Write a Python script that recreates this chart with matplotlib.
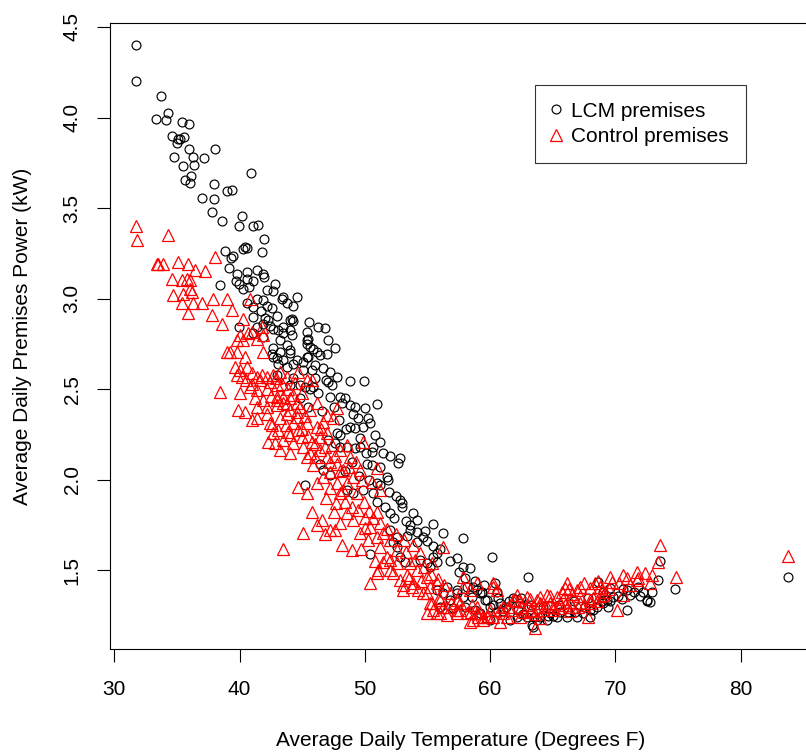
import matplotlib
matplotlib.use("Agg")
import matplotlib.pyplot as plt
from matplotlib.lines import Line2D

plt.rcParams['font.family'] = ['Liberation Sans', 'DejaVu Sans']

# LCM premises (black circles): (temperature F, power kW)
lcm_points = [
    (31.71, 4.40), (31.71, 4.20), (33.70, 4.12), (34.26, 4.025), (33.33, 3.994), (34.10, 3.989),
    (35.38, 3.978), (35.96, 3.963), (34.63, 3.90), (35.11, 3.879), (35.27, 3.882), (35.59, 3.890),
    (35.03, 3.857), (35.94, 3.825), (38.04, 3.829), (34.79, 3.781), (36.26, 3.781), (37.18, 3.774),
    (35.48, 3.733), (36.34, 3.737), (40.89, 3.696), (36.12, 3.68), (35.64, 3.654), (36.02, 3.639),
    (37.98, 3.632), (39.02, 3.595), (39.42, 3.60), (37.02, 3.558), (37.98, 3.553), (37.80, 3.477),
    (40.21, 3.459), (38.57, 3.429), (39.95, 3.404), (41.05, 3.40), (41.44, 3.406), (41.95, 3.327),
    (40.43, 3.283), (40.25, 3.272), (40.57, 3.279), (41.76, 3.255), (38.83, 3.264), (39.29, 3.227),
    (39.45, 3.234), (39.18, 3.168), (39.77, 3.139), (40.57, 3.146), (41.37, 3.157), (41.84, 3.139),
    (41.95, 3.12), (40.61, 3.106), (41.09, 3.098), (39.71, 3.095), (39.93, 3.08), (38.44, 3.076),
    (40.30, 3.054), (40.77, 3.065), (42.83, 3.08), (42.16, 3.047), (42.69, 3.04), (43.49, 3.007),
    (43.36, 2.996), (44.56, 3.007), (41.36, 2.999), (41.89, 2.992), (40.61, 2.974), (41.09, 2.955),
    (42.16, 2.959), (41.68, 2.933), (42.56, 2.946), (43.76, 2.977), (44.24, 2.959), (41.09, 2.90),
    (42.03, 2.896), (42.96, 2.903), (44.16, 2.89), (44.24, 2.877), (39.98, 2.841), (41.36, 2.844),
    (42.43, 2.848), (42.69, 2.833), (43.09, 2.826), (43.49, 2.808), (44.02, 2.826), (44.16, 2.799),
    (41.09, 2.808), (41.89, 2.789), (43.22, 2.771), (45.36, 2.815), (45.48, 2.78), (45.40, 2.749),
    (45.62, 2.734), (42.69, 2.725), (43.22, 2.706), (44.02, 2.698), (44.56, 2.661), (45.36, 2.679),
    (43.49, 2.661), (44.29, 2.642), (45.08, 2.605), (42.69, 2.679), (43.09, 2.642), (43.76, 2.624),
    (42.29, 2.881), (41.89, 2.863), (44.02, 2.885), (45.56, 2.869), (46.28, 2.841), (46.82, 2.836),
    (45.36, 2.771), (47.08, 2.771), (43.49, 2.841), (43.76, 2.743), (44.02, 2.716), (45.88, 2.72),
    (46.15, 2.706), (45.48, 2.679), (46.42, 2.688), (46.95, 2.697), (47.62, 2.725), (42.56, 2.697),
    (42.96, 2.67), (45.75, 2.605), (46.02, 2.633), (46.68, 2.615), (47.22, 2.596), (47.75, 2.565),
    (47.08, 2.541), (47.35, 2.522), (48.81, 2.546), (49.93, 2.546), (45.22, 2.51), (45.62, 2.504),
    (45.88, 2.51), (44.02, 2.522), (44.82, 2.522), (47.22, 2.458), (48.01, 2.455), (48.41, 2.449),
    (48.15, 2.422), (48.81, 2.412), (49.21, 2.403), (50.01, 2.394), (50.94, 2.418), (49.07, 2.365),
    (49.47, 2.341), (50.27, 2.341), (48.81, 2.294), (49.21, 2.284), (49.87, 2.29), (50.41, 2.311),
    (47.75, 2.256), (47.08, 2.219), (47.61, 2.201), (48.01, 2.182), (48.55, 2.182), (49.21, 2.173),
    (49.61, 2.182), (50.67, 2.182), (50.54, 2.155), (51.47, 2.146), (52.00, 2.133), (52.80, 2.118),
    (52.67, 2.094), (50.54, 2.081), (51.20, 2.072), (51.74, 2.017), (51.87, 1.998), (46.42, 2.09),
    (46.68, 2.053), (47.22, 2.026), (45.22, 1.971), (48.55, 1.943), (49.07, 1.928), (49.87, 1.943),
    (50.67, 1.925), (50.14, 2.09), (50.94, 1.98), (51.61, 1.851), (52.00, 1.815), (52.80, 1.888),
    (52.94, 1.87), (53.87, 1.815), (54.13, 1.778), (55.46, 1.756), (56.26, 1.708), (57.85, 1.677),
    (53.60, 1.723), (54.13, 1.713), (53.34, 1.689), (54.66, 1.685), (54.13, 1.658), (55.46, 1.634),
    (57.32, 1.566), (57.85, 1.52), (58.39, 1.511), (60.12, 1.575), (50.41, 1.59), (55.46, 1.575),
    (55.73, 1.547), (55.20, 1.52), (52.54, 1.63), (52.80, 1.575), (53.20, 1.547), (52.00, 1.723),
    (52.54, 1.685), (52.27, 1.658), (56.53, 1.41), (57.32, 1.391), (58.12, 1.41), (58.92, 1.391),
    (58.52, 1.354), (59.72, 1.336), (60.25, 1.308), (56.79, 1.336), (53.60, 1.75), (55.73, 1.594),
    (59.18, 1.373), (63.00, 1.461), (60.38, 1.428), (60.52, 1.382), (59.32, 1.382), (59.58, 1.336),
    (61.84, 1.345), (62.38, 1.318), (62.91, 1.244), (63.71, 1.226), (63.31, 1.198), (61.58, 1.226),
    (65.31, 1.244), (66.10, 1.244), (66.90, 1.244), (67.43, 1.262), (67.97, 1.281), (68.50, 1.299),
    (69.03, 1.318), (69.30, 1.336), (69.83, 1.354), (70.89, 1.391), (71.16, 1.364), (71.82, 1.41),
    (72.22, 1.382), (72.89, 1.382), (72.49, 1.336), (72.75, 1.327), (73.42, 1.447), (73.55, 1.553),
    (74.75, 1.397), (70.89, 1.284), (69.56, 1.401), (68.63, 1.437), (69.43, 1.299), (64.78, 1.262),
    (64.51, 1.226), (61.05, 1.275), (62.11, 1.244), (59.98, 1.226), (59.18, 1.262), (83.81, 1.461),
    (63.44, 1.189), (67.97, 1.244), (55.73, 1.391), (56.26, 1.373), (57.32, 1.373), (57.85, 1.354),
    (58.65, 1.41), (59.32, 1.373), (60.78, 1.318), (54.40, 1.557), (54.93, 1.539), (62.2, 1.28),
    (62.6, 1.26), (63.5, 1.24), (64.0, 1.24), (64.6, 1.25), (65.0, 1.25), (65.6, 1.27), (66.2, 1.27),
    (66.8, 1.27), (67.6, 1.30), (68.2, 1.28), (68.9, 1.33), (69.6, 1.33), (70.2, 1.36), (70.5, 1.34),
    (71.5, 1.38), (72.0, 1.36), (72.5, 1.33), (60.0, 1.30), (60.5, 1.27), (61.3, 1.30), (56.0, 1.30),
    (57.0, 1.29), (58.0, 1.30), (58.8, 1.28),
    (44.8, 2.45), (45.5, 2.40), (46.3, 2.48), (46.6, 2.38), (47.5, 2.40), (47.9, 2.33), (48.5, 2.28),
    (48.0, 2.25), (49.6, 2.23), (50.8, 2.25), (51.2, 2.21), (50.1, 2.15), (49.0, 2.10), (48.4, 2.05),
    (49.5, 2.02), (50.3, 2.00), (51.2, 1.97), (51.9, 1.93), (52.5, 1.91), (53.0, 1.85), (51.0, 1.88),
    (52.3, 1.79), (53.3, 1.77), (54.8, 1.72), (55.0, 1.66), (56.0, 1.62), (56.8, 1.55), (57.5, 1.49),
    (58.0, 1.46), (58.8, 1.44), (59.5, 1.42), (60.6, 1.35), (61.5, 1.33), (62.5, 1.35), (63.3, 1.31),
    (64.2, 1.30), (65.5, 1.31), (66.7, 1.33), (67.8, 1.35), (69.0, 1.38), (70.6, 1.40), (43.0, 2.58),
    (44.3, 2.56), (45.1, 2.65), (46.9, 2.55), (46.0, 2.56),
]

# Control premises (red triangles): (temperature F, power kW)
control_points = [
    (29.20, 3.705), (31.71, 3.40), (31.79, 3.323), (34.26, 3.35), (38.04, 3.231), (33.38, 3.19),
    (33.51, 3.194), (33.91, 3.19), (35.06, 3.205), (35.91, 3.19), (36.44, 3.157), (37.24, 3.153),
    (34.58, 3.111), (35.38, 3.102), (35.78, 3.106), (36.04, 3.102), (36.04, 3.056), (36.18, 3.038),
    (34.71, 3.02), (35.51, 3.025), (36.31, 2.974), (35.38, 2.977), (35.91, 2.922), (36.98, 2.974),
    (37.90, 3.001), (38.97, 3.001), (37.77, 2.909), (38.57, 2.863), (39.37, 2.936), (40.30, 2.89),
    (40.83, 2.996), (40.97, 2.817), (39.77, 2.771), (39.24, 2.706), (38.97, 2.703), (39.77, 2.706),
    (40.43, 2.678), (41.89, 2.703), (40.30, 2.771), (41.36, 2.78), (41.89, 2.799), (40.69, 2.808),
    (41.76, 2.844), (40.03, 2.799), (40.03, 2.605), (39.63, 2.624), (39.77, 2.578), (40.17, 2.569),
    (40.57, 2.624), (40.97, 2.587), (41.36, 2.569), (41.63, 2.55), (42.16, 2.569), (42.69, 2.578),
    (43.22, 2.596), (43.76, 2.569), (44.69, 2.596), (45.36, 2.55), (40.83, 2.513), (41.36, 2.495),
    (42.16, 2.504), (42.96, 2.522), (43.49, 2.458), (44.02, 2.449), (44.56, 2.422), (40.03, 2.477),
    (38.44, 2.486), (39.90, 2.385), (40.43, 2.375), (41.36, 2.403), (42.16, 2.403), (42.96, 2.412),
    (44.02, 2.385), (44.56, 2.375), (45.75, 2.55), (46.15, 2.422), (44.96, 2.477), (45.62, 2.385),
    (46.95, 2.357), (47.48, 2.339), (47.75, 2.394), (46.68, 2.32), (45.36, 2.311), (46.15, 2.292),
    (44.56, 2.348), (44.29, 2.311), (44.69, 2.274), (44.96, 2.237), (43.89, 2.265), (43.49, 2.219),
    (44.29, 2.201), (45.08, 2.182), (45.75, 2.21), (46.42, 2.237), (46.95, 2.256), (47.35, 2.192),
    (46.42, 2.164), (46.02, 2.127), (46.95, 2.127), (48.01, 2.164), (48.55, 2.192), (48.81, 2.127),
    (47.75, 2.09), (48.28, 2.053), (47.22, 2.044), (46.68, 2.017), (46.15, 1.98), (47.22, 1.953),
    (48.28, 1.943), (49.07, 2.017), (49.61, 2.053), (49.87, 2.21), (50.94, 2.063), (50.54, 1.989),
    (51.20, 1.943), (49.34, 1.925), (48.01, 1.925), (44.69, 1.961), (45.36, 1.925), (45.88, 2.081),
    (45.36, 2.127), (44.02, 2.146), (42.69, 2.256), (43.09, 2.274), (42.29, 2.21), (42.83, 2.201),
    (43.22, 2.164), (42.43, 2.311), (42.16, 2.366), (41.36, 2.339), (40.97, 2.33), (43.76, 2.366),
    (43.49, 2.422), (42.96, 2.458), (44.42, 2.532), (43.44, 1.616), (45.08, 1.704), (46.15, 1.75),
    (47.22, 1.723), (46.55, 1.778), (48.15, 1.64), (48.95, 1.612), (50.41, 1.741), (50.94, 1.685),
    (49.61, 1.704), (50.27, 1.667), (51.20, 1.63), (51.74, 1.575), (51.47, 1.547), (52.00, 1.557),
    (51.07, 1.502), (50.41, 1.428), (52.54, 1.539), (52.27, 1.484), (52.80, 1.447), (53.07, 1.391),
    (53.60, 1.539), (53.87, 1.64), (54.40, 1.594), (54.13, 1.502), (54.93, 1.465), (55.20, 1.41),
    (54.66, 1.373), (55.20, 1.318), (56.00, 1.336), (56.26, 1.63), (56.53, 1.299), (57.32, 1.336),
    (57.85, 1.465), (58.39, 1.391), (58.92, 1.299), (59.45, 1.244), (59.98, 1.281), (60.25, 1.41),
    (55.73, 1.262), (54.93, 1.262), (57.32, 1.262), (56.79, 1.373), (53.74, 1.41), (55.73, 1.428),
    (55.33, 1.539), (51.47, 1.704), (52.00, 1.667), (50.01, 1.732), (49.07, 1.778), (48.55, 1.815),
    (49.47, 1.833), (50.67, 1.787), (48.01, 1.76), (47.61, 1.723), (58.92, 1.428), (57.85, 1.41),
    (73.55, 1.64), (73.42, 1.549), (74.80, 1.461), (71.69, 1.492), (72.35, 1.484), (72.89, 1.474),
    (70.62, 1.474), (70.89, 1.456), (71.82, 1.456), (72.75, 1.428), (69.56, 1.465), (69.70, 1.437),
    (68.36, 1.428), (67.97, 1.401), (67.17, 1.41), (66.90, 1.391), (66.10, 1.428), (65.97, 1.401),
    (65.71, 1.382), (65.31, 1.354), (64.51, 1.364), (63.98, 1.354), (63.71, 1.336), (62.91, 1.354),
    (62.11, 1.364), (61.98, 1.336), (61.44, 1.299), (60.78, 1.281), (60.25, 1.244), (59.45, 1.226),
    (58.92, 1.262), (58.65, 1.226), (58.52, 1.308), (60.25, 1.428), (64.78, 1.318), (65.58, 1.318),
    (66.37, 1.327), (67.17, 1.318), (67.97, 1.336), (69.03, 1.364), (70.09, 1.281), (70.62, 1.364),
    (71.69, 1.447), (67.84, 1.244), (66.37, 1.275), (63.18, 1.275), (62.38, 1.244), (61.31, 1.244),
    (60.78, 1.217), (63.98, 1.235), (65.05, 1.281), (63.58, 1.18), (58.39, 1.217), (83.81, 1.579),
    (50.94, 1.484), (53.07, 1.419), (53.34, 1.474), (53.87, 1.428), (54.26, 1.391), (54.93, 1.373),
    (55.33, 1.318), (55.46, 1.281), (56.00, 1.262), (56.26, 1.299), (56.53, 1.253), (57.32, 1.281),
    (57.59, 1.318), (58.12, 1.262), (59.18, 1.262), (59.72, 1.244), (60.52, 1.391), (61.84, 1.336),
    (61.05, 1.262), (62.5, 1.30), (63.0, 1.31), (63.3, 1.28), (63.6, 1.26), (63.9, 1.30), (64.2, 1.28),
    (64.0, 1.32), (63.2, 1.34), (62.7, 1.27), (64.5, 1.30), (65.0, 1.30), (65.5, 1.29), (66.0, 1.31),
    (66.5, 1.30), (67.0, 1.30), (67.5, 1.31), (68.0, 1.32), (68.5, 1.33), (68.8, 1.36), (69.2, 1.38),
    (69.5, 1.40), (68.6, 1.44), (67.5, 1.43), (66.3, 1.40), (66.5, 1.37), (68.2, 1.35),
    (40.5, 2.55), (41.0, 2.53), (41.8, 2.58), (42.4, 2.54), (42.9, 2.56), (43.4, 2.53), (43.9, 2.50),
    (44.3, 2.47), (41.2, 2.45), (41.9, 2.44), (42.5, 2.46), (43.0, 2.44), (43.8, 2.42), (44.8, 2.40),
    (45.2, 2.35), (43.2, 2.34), (42.6, 2.30), (43.7, 2.30), (44.0, 2.25), (45.0, 2.28), (45.5, 2.24),
    (46.0, 2.20), (46.5, 2.28), (45.6, 2.15), (46.8, 2.18), (47.6, 2.13), (47.2, 2.10), (48.0, 2.05),
    (48.7, 2.07), (49.3, 2.10), (49.8, 2.00), (48.6, 1.98), (47.8, 1.98), (46.9, 1.90), (47.7, 1.87),
    (48.4, 1.88), (49.0, 1.85), (49.9, 1.88), (50.3, 1.83), (51.0, 1.82), (50.0, 1.79), (51.2, 1.76),
    (51.8, 1.73), (52.5, 1.70), (53.1, 1.67), (52.6, 1.61), (53.3, 1.60), (54.0, 1.56), (54.7, 1.52),
    (55.3, 1.48), (55.8, 1.45), (56.3, 1.42), (55.9, 1.35), (56.9, 1.32), (57.6, 1.28), (58.5, 1.27),
    (59.0, 1.24), (59.8, 1.25), (61.0, 1.30), (61.7, 1.28), (62.3, 1.33), (64.8, 1.36), (65.8, 1.34),
    (67.2, 1.36), (68.8, 1.41), (70.3, 1.43), (71.2, 1.42), (54.5, 1.44), (53.5, 1.46), (52.0, 1.50),
    (50.8, 1.55), (49.7, 1.62), (47.5, 1.82), (46.8, 1.70), (45.8, 1.82),
]

x_ticks = [30, 40, 50, 60, 70, 80]
y_ticks = [1.5, 2.0, 2.5, 3.0, 3.5, 4.0, 4.5]
y_tick_labels = ["1.5", "2.0", "2.5", "3.0", "3.5", "4.0", "4.5"]
series_labels = ["LCM premises", "Control premises"]

W, H = 806, 752
fig = plt.figure(figsize=(W / 100, H / 100), dpi=100)
ax = fig.add_axes([110 / W, 1 - 649 / H, 702 / W, 626 / H])

lx, ly = zip(*lcm_points)
cx, cy = zip(*control_points)
ax.plot(lx, ly, linestyle='none', marker='o', markersize=6.4, markerfacecolor='none',
        markeredgecolor='black', markeredgewidth=0.85)
ax.plot(cx, cy, linestyle='none', marker='^', markersize=9, markerfacecolor='none',
        markeredgecolor='#FF0000', markeredgewidth=0.9)

ax.set_xlim(29.66, 85.69)
ax.set_ylim(1.066, 4.522)
ax.set_xticks(x_ticks)
ax.set_yticks(y_ticks)
ax.set_yticklabels(y_tick_labels, rotation=90, va='center')
ax.tick_params(axis='both', direction='out', length=9.4, width=0.8, labelsize=15, color='black')
ax.tick_params(axis='x', pad=13)
ax.tick_params(axis='y', pad=11)
for s in ax.spines.values():
    s.set_linewidth(0.8)
    s.set_color('black')

ax.set_xlabel("Average Daily Temperature (Degrees F)", fontsize=15)
ax.set_ylabel("Average Daily Premises Power (kW)", fontsize=15)
ax.xaxis.set_label_coords(0.5, -(740 - 649) / 626, transform=ax.transAxes)
ax.xaxis.label.set_va('center')
ax.yaxis.set_label_coords(-(110 - 22) / 702, 0.5, transform=ax.transAxes)
ax.yaxis.label.set_va('center')

handles = [
    Line2D([], [], linestyle='none', marker='o', markersize=6.4, markerfacecolor='none',
           markeredgecolor='black', markeredgewidth=0.85),
    Line2D([], [], linestyle='none', marker='^', markersize=9, markerfacecolor='none',
           markeredgecolor='#FF0000', markeredgewidth=0.9),
]
leg = ax.legend(handles, series_labels, loc='upper left',
                bbox_to_anchor=(535 / W, 1 - 85 / H), bbox_transform=fig.transFigure,
                fontsize=15, frameon=True, fancybox=False, edgecolor='black',
                borderpad=0.8, handlelength=0.4, handletextpad=0.55, labelspacing=0.3,
                borderaxespad=0)
leg.get_frame().set_linewidth(0.8)

fig.savefig("out.png", dpi=100)
